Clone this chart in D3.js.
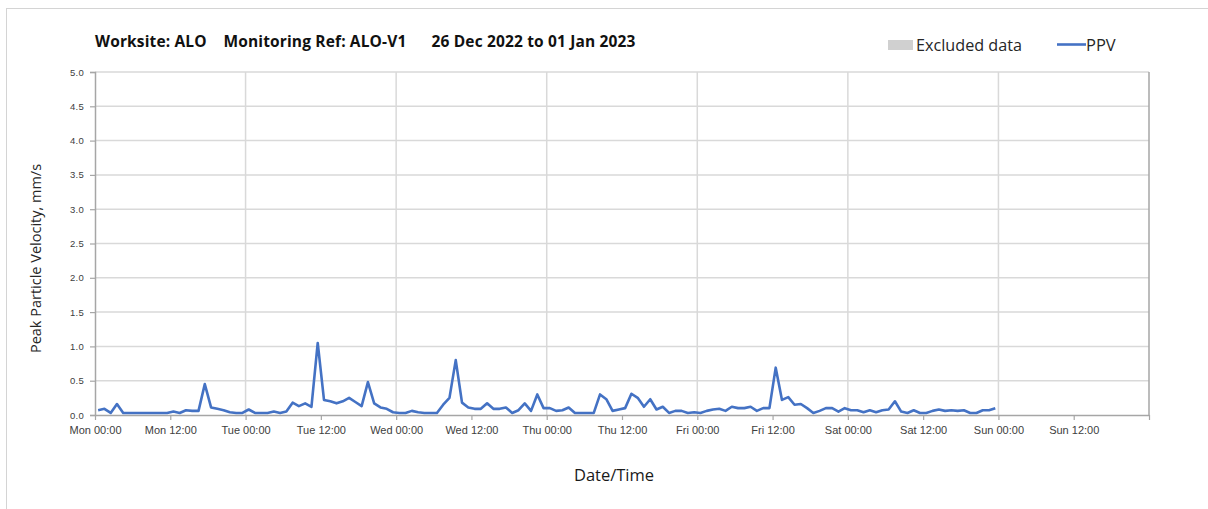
<!DOCTYPE html>
<html><head><meta charset="utf-8">
<script src="https://cdn.jsdelivr.net/npm/d3@7"></script>
<style>body{margin:0;background:#fff;} svg{display:block;font-family:"Open Sans",sans-serif;}</style>
</head><body><svg id="c" width="1208" height="509"></svg>
<script>
const titleText = "Worksite: ALO    Monitoring Ref: ALO-V1      26 Dec 2022 to 01 Jan 2023";
const startTime = "2022-12-26T00:00:00";
const sampleOffsetMinutes = 30;
const sampleIntervalMinutes = 60;
const ppv = [
0.07,0.09,0.03,0.16,0.03,0.03,0.03,0.03,0.03,0.03,0.03,0.03,
0.05,0.03,0.07,0.06,0.06,0.45,0.11,0.09,0.07,0.04,0.03,0.03,
0.08,0.03,0.03,0.03,0.05,0.03,0.05,0.18,0.13,0.17,0.12,1.05,
0.22,0.20,0.17,0.20,0.25,0.19,0.13,0.48,0.17,0.11,0.09,0.04,
0.03,0.03,0.06,0.04,0.03,0.03,0.03,0.15,0.25,0.80,0.18,0.11,
0.09,0.09,0.17,0.09,0.09,0.11,0.03,0.07,0.17,0.06,0.30,0.10,
0.10,0.06,0.07,0.11,0.03,0.03,0.03,0.03,0.30,0.23,0.06,0.08,
0.10,0.31,0.25,0.12,0.23,0.08,0.12,0.03,0.06,0.06,0.03,0.04,
0.03,0.06,0.08,0.09,0.06,0.12,0.10,0.10,0.12,0.06,0.10,0.10,
0.69,0.22,0.26,0.15,0.16,0.10,0.03,0.06,0.10,0.10,0.05,0.10,
0.07,0.07,0.04,0.07,0.04,0.07,0.08,0.20,0.05,0.03,0.07,0.03,
0.03,0.06,0.08,0.06,0.07,0.06,0.07,0.03,0.03,0.07,0.07,0.10];
const yTicks = [0,0.5,1.0,1.5,2.0,2.5,3.0,3.5,4.0,4.5,5.0];
const xTickLabels = ["Mon 00:00","Mon 12:00","Tue 00:00","Tue 12:00","Wed 00:00","Wed 12:00","Thu 00:00","Thu 12:00","Fri 00:00","Fri 12:00","Sat 00:00","Sat 12:00","Sun 00:00","Sun 12:00"];
const legendLabels = ["Excluded data","PPV"];
const yLabel = "Peak Particle Velocity, mm/s";
const xLabel = "Date/Time";

const svg = d3.select("#c");
const t0 = new Date(startTime);
const HOUR = 3600e3;
const t1 = new Date(t0.getTime() + 168*HOUR);
const pL = 95, pR = 1149, pT = 72, pB = 415;

const x = d3.scaleTime().domain([t0, t1]).range([pL, pR]);
const y = d3.scaleLinear().domain([0,5]).range([pB, pT]);

// outer frame
svg.append("rect").attr("x",6.5).attr("y",8.5).attr("width",1300).attr("height",700)
  .attr("fill","none").attr("stroke","#d4d4d4").attr("stroke-width",1);

const tickTimes = xTickLabels.map((d,i)=> new Date(t0.getTime() + i*12*HOUR));
const dayTimes = tickTimes.filter((d,i)=> i%2===0 && i>0);

// horizontal gridlines
svg.append("g").selectAll("line").data(yTicks.filter(d=>d>0)).join("line")
  .attr("x1",pL).attr("x2",pR).attr("y1",d=>y(d)).attr("y2",d=>y(d))
  .attr("stroke","#d9d9d9").attr("stroke-width",1.5);
// vertical gridlines
svg.append("g").selectAll("line").data(dayTimes).join("line")
  .attr("x1",d=>x(d)).attr("x2",d=>x(d)).attr("y1",pT).attr("y2",pB)
  .attr("stroke","#d9d9d9").attr("stroke-width",1.5);

// y axis
const yAxis = d3.axisLeft(y).tickValues(yTicks).tickFormat(d3.format(".1f")).tickSize(5).tickPadding(6);
const gy = svg.append("g").attr("transform",`translate(${pL},0)`).call(yAxis);
gy.select(".domain").attr("stroke","#a6a6a6").attr("stroke-width",1.5);
gy.selectAll(".tick line").attr("stroke","#a6a6a6").attr("stroke-width",1.2);
gy.selectAll(".tick text").attr("fill","#404040").attr("font-size","9.5px").attr("letter-spacing","0.3px");

// x axis
const xAxis = d3.axisBottom(x).tickValues(tickTimes.concat([t1])).tickFormat((d,i)=> xTickLabels[i] || "").tickSize(5).tickSizeOuter(0).tickPadding(6);
const gx = svg.append("g").attr("transform",`translate(0,${pB})`).call(xAxis);
gx.select(".domain").attr("stroke","#a6a6a6").attr("stroke-width",1.5);
gx.selectAll(".tick line").attr("stroke","#a6a6a6").attr("stroke-width",1.2);
gx.selectAll(".tick text").attr("fill","#404040").attr("font-size","11px");

// right border
svg.append("line").attr("x1",pR).attr("x2",pR).attr("y1",pT).attr("y2",pB)
  .attr("stroke","#a6a6a6").attr("stroke-width",1.5);

// data line
const pts = ppv.map((v,i)=>({t:new Date(t0.getTime() + (sampleOffsetMinutes + i*sampleIntervalMinutes)*60e3), v}));
svg.append("path").datum(pts)
  .attr("fill","none").attr("stroke","#4472C4").attr("stroke-width",2.6).attr("stroke-linejoin","round")
  .attr("d", d3.line().x(d=>x(d.t)).y(d=>y(d.v)));

// title
svg.append("text").attr("x",95).attr("y",47).attr("font-weight","bold").attr("font-size","15.5px")
  .attr("letter-spacing","0.15px")
  .attr("fill","#111").attr("xml:space","preserve").style("white-space","pre").text(titleText);

// legend
svg.append("rect").attr("x",888).attr("y",40).attr("width",25).attr("height",10).attr("fill","#d0d0d0");
svg.append("text").attr("x",916).attr("y",51).attr("font-size","16.2px").attr("fill","#262626").text(legendLabels[0]);
svg.append("line").attr("x1",1057).attr("x2",1086).attr("y1",44.5).attr("y2",44.5).attr("stroke","#4472C4").attr("stroke-width",2.6);
svg.append("text").attr("x",1086).attr("y",51).attr("font-size","16.5px").attr("fill","#262626").text(legendLabels[1]);

// axis titles
svg.append("text").attr("transform",`translate(41,${(pT+pB)/2+15}) rotate(-90)`).attr("text-anchor","middle")
  .attr("font-size","14.5px").attr("fill","#262626").text(yLabel);
svg.append("text").attr("x",614).attr("y",481).attr("text-anchor","middle")
  .attr("font-size","16.5px").attr("fill","#1a1a1a").text(xLabel);
</script></body></html>
